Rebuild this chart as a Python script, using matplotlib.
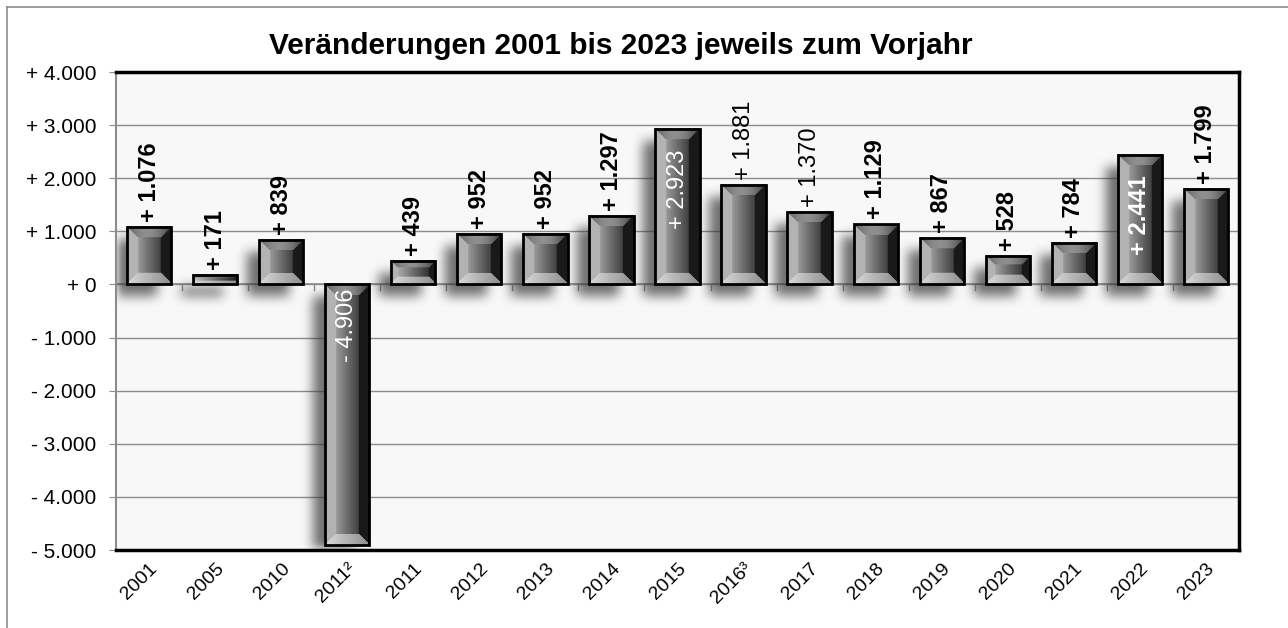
import numpy as np
import matplotlib.pyplot as plt
from matplotlib.patches import Rectangle
from matplotlib.lines import Line2D

plt.rcParams["font.family"] = ["Liberation Sans", "DejaVu Sans"]

# data
years = ["2001", "2005", "2010", "2011²", "2011", "2012", "2013", "2014", "2015",
         "2016³", "2017", "2018", "2019", "2020", "2021", "2022", "2023"]
changes = [1076, 171, 839, -4906, 439, 952, 952, 1297, 2923,
           1881, 1370, 1129, 867, 528, 784, 2441, 1799]
# label style per bar: inside the bar (white) or above it, bold or normal
label_inside = [False, False, False, True, False, False, False, False, True,
                False, False, False, False, False, False, True, False]
label_bold = [True, True, True, False, True, True, True, True, False,
              False, False, True, True, True, True, True, True]
yticks = [-5000, -4000, -3000, -2000, -1000, 0, 1000, 2000, 3000, 4000]


def fmt(v):
    s = f"{abs(v):,}".replace(",", ".")
    return ("- " if v < 0 else "+ ") + s


def bevel_image(w, h):
    w = max(int(round(w)), 2)
    h = max(int(round(h)), 2)
    b = max(2, min(11, h // 3, w // 3))
    yy, xx = np.mgrid[0:h, 0:w]
    t = xx / (w - 1)
    face = 0.80 - 0.70 * t ** 0.9
    top = 0.38 + 0.25 * np.sin(np.pi * t) - 0.15 * t
    bot = 0.85 - 0.30 * t
    left = np.full_like(t, 0.70)
    right = np.full_like(t, 0.10)
    d = np.stack([yy, h - 1 - yy, xx, w - 1 - xx])
    k = d.argmin(axis=0)
    m = d.min(axis=0)
    img = face.copy()
    for idx, arr in enumerate([top, bot, left, right]):
        sel = (m < b) & (k == idx)
        img[sel] = arr[sel]
    return img


def box_blur(a, r, axis):
    k = np.ones(2 * r + 1) / (2 * r + 1)
    return np.apply_along_axis(lambda v: np.convolve(v, k, mode="same"), axis, a)


fig = plt.figure(figsize=(12.88, 6.28), dpi=100)
ax = fig.add_axes([116 / 1288, 1 - 550 / 628, (1239 - 116) / 1288, (550 - 72) / 628])
ax.set_facecolor("#f8f8f8")

x = np.arange(len(years))
width = 0.67

# pixel scale of the axes
W, H = 1239 - 116, 550 - 72
px_x = W / len(years)
px_y = H / 9000.0

# blurred drop shadow for all bars, offset to the lower left
mask = np.zeros((H, W))
for xi, v in zip(x, changes):
    c0 = int(round((xi - width / 2 + 0.5) * px_x)) - 12
    c1 = c0 + int(round(width * px_x)) - 2
    r_top = int(round((4000 - max(0, v)) * px_y)) + 12
    r_bot = int(round((4000 - min(0, v)) * px_y)) + 12
    mask[max(r_top, 0):min(r_bot, H), max(c0, 0):max(c1, 0)] = 1.0
for _ in range(3):
    mask = box_blur(mask, 5, 0)
    mask = box_blur(mask, 5, 1)
shadow = np.zeros((H, W, 4))
shadow[..., :3] = 0.2
shadow[..., 3] = np.clip(mask * 0.7, 0, 1)
ax.imshow(shadow, extent=(-0.5, len(years) - 0.5, -5000, 4000), aspect="auto",
          origin="upper", interpolation="bilinear", zorder=2)

for xi, v in zip(x, changes):
    x0 = xi - width / 2
    y0, y1 = min(0, v), max(0, v)
    img = bevel_image(width * px_x, (y1 - y0) * px_y)
    ax.imshow(img, cmap="gray", vmin=0, vmax=1, extent=(x0, x0 + width, y0, y1),
              aspect="auto", interpolation="bilinear", origin="upper", zorder=3)
    ax.add_patch(Rectangle((x0, y0), width, y1 - y0, facecolor="none",
                           edgecolor="black", lw=2, zorder=4))

ax.set_xlim(-0.5, len(years) - 0.5)
ax.set_ylim(-5000, 4000)

for xi, v, inside, bold in zip(x, changes, label_inside, label_bold):
    weight = "bold" if bold else "normal"
    if inside:
        pad = 20 if v > 0 else 4
        yv = v - pad / px_y if v > 0 else -pad / px_y
        ax.text(xi, yv, fmt(v), rotation=90, ha="center", va="top", color="white",
                fontsize=17, fontweight=weight, zorder=5)
    else:
        ax.text(xi, v + 5 / px_y, fmt(v), rotation=90, ha="center", va="bottom",
                color="black", fontsize=17, fontweight=weight, zorder=5)

ax.set_yticks(yticks)
ax.set_yticklabels([fmt(t) if t != 0 else "+ 0" for t in yticks], fontsize=15)
ax.yaxis.grid(True, color="#8c8c8c", lw=1)
ax.set_axisbelow(True)
ax.tick_params(axis="y", length=5, color="#8c8c8c", pad=9)

ax.set_xticks(x)
ax.set_xticklabels(years, rotation=45, ha="right", rotation_mode="anchor", fontsize=14)
ax.tick_params(axis="x", length=0, pad=7)

# zero line with small category ticks
ax.axhline(0, color="#8c8c8c", lw=1.2, zorder=1)
for b in np.arange(0.5, len(years) - 0.5, 1.0):
    ax.plot([b, b], [0, -6 / px_y], color="#8c8c8c", lw=1, zorder=1)

ax.spines["left"].set_color("#8c8c8c")
ax.spines["left"].set_linewidth(1.5)
for sp in ["top", "right", "bottom"]:
    ax.spines[sp].set_color("black")
    ax.spines[sp].set_linewidth(2.5)

fig.text(621 / 1288, 1 - 46 / 628, "Veränderungen 2001 bis 2023 jeweils zum Vorjahr",
         ha="center", va="center", fontsize=21.5, fontweight="bold")

# outer frame lines (top and left)
fig.add_artist(Line2D([7 / 1288, 1], [1 - 7 / 628, 1 - 7 / 628], color="#8c8c8c", lw=1.2))
fig.add_artist(Line2D([7 / 1288, 7 / 1288], [0, 1 - 7 / 628], color="#8c8c8c", lw=1.2))

fig.savefig("out.png", dpi=100)
